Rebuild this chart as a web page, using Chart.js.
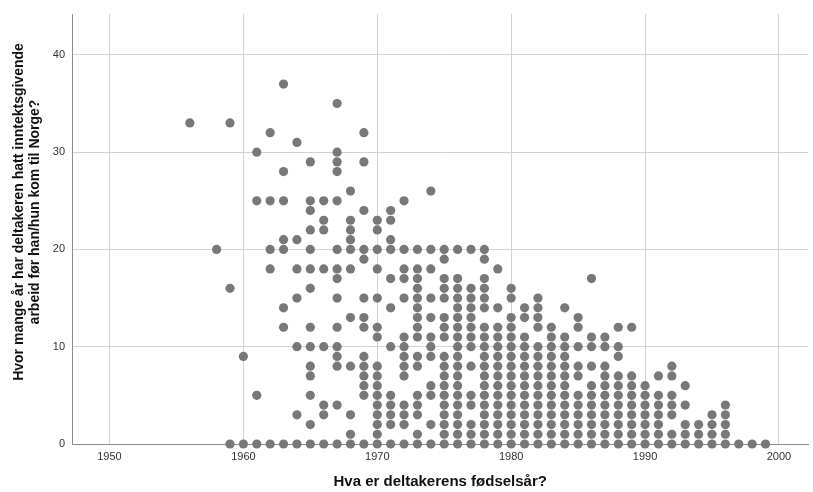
<!DOCTYPE html>
<html>
<head>
<meta charset="utf-8">
<script src="https://cdn.jsdelivr.net/npm/chart.js@4.4.0/dist/chart.umd.min.js"></script>
<style>
  html, body { margin: 0; padding: 0; background: #fff; }
  #wrap { width: 813px; height: 492px; }
</style>
</head>
<body>
<div id="wrap"><canvas id="scatter" width="813" height="492"></canvas></div>
<script>
  // birth year (x) and the years of paid work for each respondent born that year (y)
  const birthYears = [
    1956, 1958, 1959, 1960, 1961, 1962, 1963, 1964, 1965, 1966, 1967, 1968, 1969,
    1970, 1971, 1972, 1973, 1974, 1975, 1976, 1977, 1978, 1979, 1980, 1981, 1982,
    1983, 1984, 1985, 1986, 1987, 1988, 1989, 1990, 1991, 1992, 1993, 1994, 1995,
    1996, 1997, 1998, 1999
  ];
  const workYears = [
    [33],
    [20],
    [33, 16, 0],
    [9, 0],
    [30, 25, 5, 0],
    [32, 25, 20, 18, 0],
    [37, 28, 25, 21, 20, 14, 12, 0],
    [31, 21, 18, 15, 10, 3, 0],
    [29, 25, 24, 22, 20, 18, 16, 12, 10, 8, 7, 5, 2, 0],
    [25, 23, 22, 18, 10, 4, 3, 0],
    [35, 30, 29, 28, 25, 20, 18, 17, 15, 12, 10, 9, 8, 4, 0],
    [26, 23, 22, 21, 20, 18, 13, 8, 3, 1, 0],
    [32, 29, 24, 20, 19, 15, 13, 12, 9, 8, 7, 6, 5, 0],
    [23, 22, 20, 18, 15, 12, 11, 8, 7, 6, 5, 4, 3, 2, 1, 0],
    [24, 23, 21, 20, 17, 14, 10, 5, 4, 3, 2, 0],
    [25, 20, 18, 17, 15, 11, 10, 9, 8, 7, 4, 3, 2, 0],
    [20, 18, 17, 16, 15, 14, 13, 12, 11, 9, 8, 5, 4, 3, 1, 0],
    [26, 20, 18, 15, 13, 11, 10, 9, 6, 5, 2, 0],
    [20, 19, 17, 16, 15, 13, 12, 11, 9, 8, 7, 6, 5, 4, 3, 2, 1, 0],
    [20, 17, 16, 15, 14, 13, 12, 11, 10, 9, 8, 7, 6, 5, 4, 3, 2, 1, 0],
    [20, 16, 15, 14, 13, 12, 11, 10, 8, 5, 4, 2, 1, 0],
    [20, 19, 17, 16, 15, 14, 12, 11, 10, 9, 8, 7, 6, 5, 4, 3, 2, 1, 0],
    [18, 14, 12, 11, 10, 9, 8, 7, 6, 5, 4, 3, 2, 1, 0],
    [16, 15, 13, 12, 11, 10, 9, 8, 7, 6, 5, 4, 3, 2, 1, 0],
    [14, 13, 11, 10, 9, 8, 7, 6, 5, 4, 3, 2, 1, 0],
    [15, 14, 13, 12, 10, 9, 8, 7, 6, 5, 4, 3, 2, 1, 0],
    [12, 11, 10, 9, 8, 7, 6, 5, 4, 3, 2, 1, 0],
    [14, 11, 10, 9, 8, 7, 6, 5, 4, 3, 2, 1, 0],
    [13, 12, 10, 8, 7, 5, 4, 3, 2, 1, 0],
    [17, 11, 10, 8, 6, 5, 4, 3, 2, 1, 0],
    [11, 10, 8, 7, 6, 5, 4, 3, 2, 1, 0],
    [12, 10, 9, 7, 6, 5, 4, 3, 2, 1, 0],
    [12, 7, 6, 5, 4, 3, 2, 1, 0],
    [6, 5, 4, 3, 2, 1, 0],
    [7, 5, 4, 3, 2, 1, 0],
    [8, 7, 5, 4, 3, 1, 0],
    [6, 4, 2, 1, 0],
    [2, 1, 0],
    [3, 2, 1, 0],
    [4, 3, 2, 1, 0],
    [0],
    [0],
    [0]
  ];
  const xTickValues = [1950, 1960, 1970, 1980, 1990, 2000];
  const yTickValues = [0, 10, 20, 30, 40];
  const xTitle = 'Hva er deltakerens fødselsår?';
  const yTitle = ['Hvor mange år har deltakeren hatt inntektsgivende', 'arbeid før han/hun kom til Norge?'];

  const points = [];
  birthYears.forEach((year, i) => {
    workYears[i].forEach(v => points.push({ x: year, y: v }));
  });

  const FONT = '"Liberation Sans", Arial, sans-serif';

  // axis titles drawn by hand so they sit where SPSS puts them
  const axisTitles = {
    id: 'axisTitles',
    afterDraw(chart) {
      const { ctx, chartArea } = chart;
      ctx.save();
      ctx.fillStyle = '#111';
      ctx.textAlign = 'center';
      ctx.textBaseline = 'middle';
      ctx.font = 'bold 15px ' + FONT;
      ctx.fillText(xTitle, (chartArea.left + chartArea.right) / 2, 482);
      ctx.font = 'bold 14px ' + FONT;
      ctx.translate(19, 212);
      ctx.rotate(-Math.PI / 2);
      ctx.fillText(yTitle[0], 0, 0);
      ctx.fillText(yTitle[1], 0, 16);
      ctx.restore();
    }
  };

  new Chart(document.getElementById('scatter').getContext('2d'), {
    type: 'scatter',
    data: {
      datasets: [{
        data: points,
        backgroundColor: '#787878',
        borderWidth: 0,
        pointRadius: 4.6,
        pointHoverRadius: 4.6,
        clip: false
      }]
    },
    options: {
      responsive: false,
      animation: false,
      layout: { padding: { top: 14, left: 0, right: 0, bottom: 0 } },
      plugins: {
        legend: { display: false },
        title: { display: false },
        tooltip: { enabled: false }
      },
      scales: {
        x: {
          type: 'linear',
          min: 1947.2,
          max: 2002.2,
          afterBuildTicks: (scale) => { scale.ticks = xTickValues.map(v => ({ value: v })); },
          afterFit: (scale) => { scale.height = 48; },
          ticks: {
            padding: 6,
            color: '#333',
            font: { family: FONT, size: 11 },
            callback: (v) => String(v)
          },
          grid: { color: '#d2d2d2', drawTicks: false, lineWidth: 1 },
          border: { display: true, color: '#8c8c8c', width: 1 }
        },
        y: {
          type: 'linear',
          min: 0,
          max: 44.2,
          afterBuildTicks: (scale) => { scale.ticks = yTickValues.map(v => ({ value: v })); },
          afterFit: (scale) => { scale.width = 72; },
          ticks: {
            padding: 7,
            color: '#333',
            font: { family: FONT, size: 11 },
            callback: (v) => String(v)
          },
          grid: {
            color: (c) => c.tick && c.tick.value === 0 ? 'rgba(0,0,0,0)' : '#d2d2d2',
            drawTicks: false,
            lineWidth: 1
          },
          border: { display: true, color: '#8c8c8c', width: 1 }
        }
      }
    },
    plugins: [axisTitles]
  });
</script>
</body>
</html>
